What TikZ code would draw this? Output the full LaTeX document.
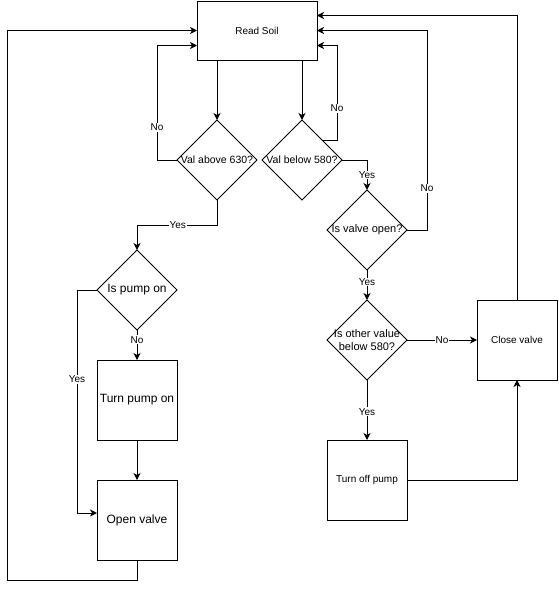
\documentclass[tikz,border=0pt]{standalone}
\usepackage{fontspec}
\setmainfont{Liberation Sans}
\usetikzlibrary{arrows.meta,shapes.geometric,calc}
\begin{document}
\begin{tikzpicture}[x=1pt,y=-1pt,
  box/.style={draw,line width=1pt,inner sep=0pt,outer sep=0pt,minimum width=80pt,minimum height=80pt,align=center},
  dia/.style={draw,diamond,line width=1pt,inner sep=0pt,outer sep=0pt,minimum width=80pt,minimum height=80pt},
  dtext/.style={inner sep=0pt,align=center},
  arr/.style={line width=1pt,-{Stealth[length=7pt,width=7pt,inset=2pt]}},
  ln/.style={line width=1pt},
  lbl/.style={fill=white,inner sep=1pt,font=\fontsize{10}{12}\selectfont},
  fs10/.style={font=\fontsize{10}{12}\selectfont},
  fs105/.style={font=\fontsize{10.5}{12.5}\selectfont},
  fs11/.style={font=\fontsize{11}{13}\selectfont},
  fs12/.style={font=\fontsize{12}{14}\selectfont}]
\useasboundingbox (0,0) rectangle (558,589);
% nodes
\node[box,fs10,minimum width=120pt,minimum height=59pt] (read) at (257,30.5) {Read Soil};
\node[dia] (d1) at (217,160) {};
\node[dtext,fs105] at (d1) {Val above 630?};
\node[dia] (d2) at (302,160) {};
\node[dtext,fs105] at (d2) {Val below 580?};
\node[dia] (d3) at (367,230) {};
\node[dtext,fs11] at (d3) {Is valve open?};
\node[dia] (d4) at (367,340) {};
\node[dtext,fs11] at (d4) {Is other value\\below 580?};
\node[dia] (d5) at (137,290) {};
\node[dtext,fs12] at (d5) {Is pump on};
\node[box,fs10] (close) at (517,340) {Close valve};
\node[box,fs10] (toff) at (367,480) {Turn off pump};
\node[box,fs12] (pon) at (137,400) {Turn pump on};
\node[box,fs12] (ov) at (137,520) {Open valve};
% connectors
\draw[arr] (read.south -| d1.north) -- (d1.north);
\draw[arr] (read.south -| d2.north) -- (d2.north);
\draw[arr] (d1.west) -- ++(-20pt,0pt) |- ([yshift=-15pt]read.west) node[lbl,pos=0.143]{No};
\draw[arr] (d2.north east) -- ++(15pt,0pt) |- ([yshift=-15pt]read.east) node[lbl,pos=0.168]{No};
\draw[arr] (d2.east) -| (d3.north) node[lbl,pos=0.75]{Yes};
\draw[arr] (d3.east) -- ++(20pt,0pt) |- (read.east) node[lbl,pos=0.105]{No};
\draw[arr] (d3.south) -- (d4.north) node[lbl,pos=0.4]{Yes};
\draw[arr] (d4.east) -- (close.west) node[lbl,pos=0.5]{No};
\draw[arr] (close.north) |- ([yshift=15pt]read.east);
\draw[arr] (d4.south) -- (toff.north) node[lbl,pos=0.53]{Yes};
\draw[arr] (toff.east) -| (close.south);
\draw[arr] (d1.south) -- ++(0pt,-25pt) -| (d5.north) node[lbl,pos=0.245]{Yes};
\draw[arr] (d5.south) -- (pon.north) node[lbl,pos=0.33]{No};
\draw[arr] (d5.west) -- ++(-20pt,0pt) |- ([yshift=7pt]ov.west) node[lbl,pos=0.2]{Yes};
\draw[arr] (pon.south) -- (ov.north);
\draw[arr] (ov.south) -- ++(0pt,-20pt) -- ++(-130pt,0pt) |- (read.west);
\end{tikzpicture}
\end{document}
